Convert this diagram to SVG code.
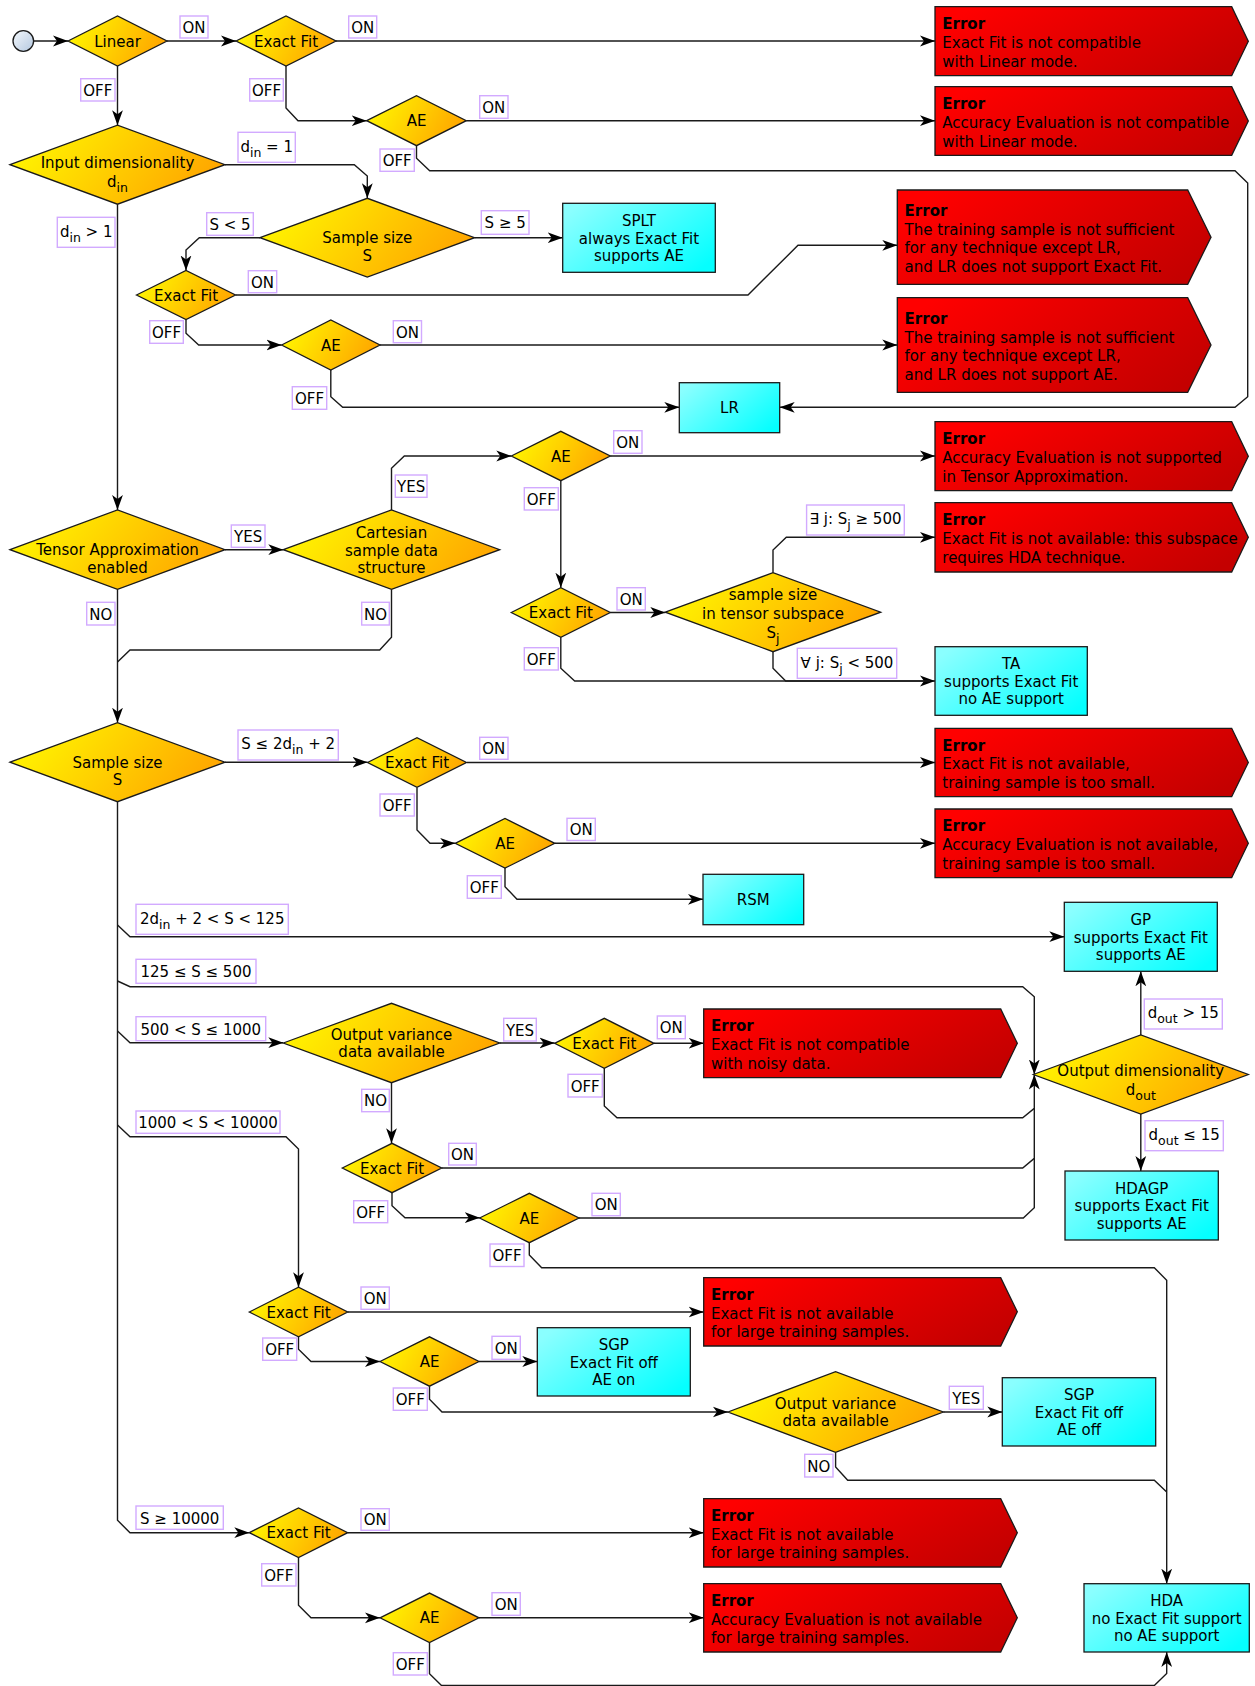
<svg xmlns="http://www.w3.org/2000/svg" width="1255" height="1686" viewBox="0 0 1255 1686">
<defs>
<linearGradient id="gy" x1="0" y1="0.35" x2="1" y2="0.65"><stop offset="0" stop-color="#fff600"/><stop offset="1" stop-color="#ffa200"/></linearGradient>
<linearGradient id="gc" x1="0" y1="0.2" x2="1" y2="0.8"><stop offset="0" stop-color="#8affff"/><stop offset="1" stop-color="#05ffff"/></linearGradient>
<linearGradient id="gr" x1="0" y1="0.3" x2="1" y2="0.7"><stop offset="0" stop-color="#ff0000"/><stop offset="1" stop-color="#c40000"/></linearGradient>
<linearGradient id="gs" x1="0" y1="0" x2="1" y2="1"><stop offset="0" stop-color="#f4f8fc"/><stop offset="1" stop-color="#b4c8e0"/></linearGradient>
<marker id="a" viewBox="0 0 16 12" refX="15" refY="6" markerWidth="16" markerHeight="12" markerUnits="userSpaceOnUse" orient="auto"><path d="M15,6 L0,0.6 L4,6 L0,11.4 Z" fill="#000"/></marker>
<style>
text{font-family:"DejaVu Sans","Liberation Sans",sans-serif;font-size:15px;fill:#000}
.t{text-anchor:middle}
.s{font-size:12.5px}
.eb{font-weight:bold}
.d{fill:url(#gy);stroke:#1a1a1a;stroke-width:1.3}
.b{fill:url(#gc);stroke:#1a1a1a;stroke-width:1.3}
.e{fill:url(#gr);stroke:#1a1a1a;stroke-width:1.3}
.l{fill:#fff;stroke:#d2aaff;stroke-width:1.4}
.c{fill:none;stroke:#1a1a1a;stroke-width:1.4}
.m{marker-end:url(#a)}
</style>
</defs>
<rect width="1255" height="1686" fill="#fff"/>

<g id="connectors">
<path class="c m" d="M33.6,41 H68"/>
<path class="c m" d="M167,41 H236"/>
<path class="c m" d="M336,41 H935"/>
<path class="c m" d="M117.5,66 V125.2"/>
<path class="c m" d="M286,66 V108 L298,120.7 H366.7"/>
<path class="c m" d="M466.3,120.7 H935"/>
<path class="c m" d="M416.5,145.7 V158.3 L429.7,170.7 H1235 L1247.7,183 V396.7 L1235,407.3 H779.7"/>
<path class="c m" d="M225,164.7 H354.3 L367.3,176 V198.3"/>
<path class="c m" d="M474.6,237.7 H562.7"/>
<path class="c m" d="M260,237.7 H199.3 L186,250 V270.5"/>
<path class="c m" d="M235.5,295 H748 L798,245.3 H897.3"/>
<path class="c m" d="M186,319.5 V333.3 L198.7,345 H281.6"/>
<path class="c m" d="M380,345 H897.3"/>
<path class="c m" d="M330.8,370 V396.7 L342.7,407.3 H679.3"/>
<path class="c m" d="M117.5,204.2 V510"/>
<path class="c m" d="M225,549.7 H283.3"/>
<path class="c m" d="M391.5,510 V468.3 L404.3,456 H511.3"/>
<path class="c m" d="M610.3,456 H935"/>
<path class="c m" d="M560.8,480.7 V587.7"/>
<path class="c m" d="M610.3,612.5 H665.3"/>
<path class="c m" d="M773,572.7 V550 L786.3,537.3 H935"/>
<path class="c m" d="M773,651.7 V668.3 L785.7,681 H935"/>
<path class="c" d="M560.8,637.3 V668.3 L574.7,681 H930"/>
<path class="c m" d="M117.5,589.4 V722.7"/>
<path class="c" d="M391.5,589.4 V637.3 L379.7,650 H130 L117.5,662"/>
<path class="c m" d="M225,762.2 H367.5"/>
<path class="c m" d="M467,762.5 H935"/>
<path class="c m" d="M417,787.5 V830 L430,843.3 H455.2"/>
<path class="c m" d="M554.8,843.3 H935"/>
<path class="c m" d="M505,868.1 V886.7 L517,899.3 H703"/>
<path class="c m" d="M117.5,801.7 V1520.3 L130,1532.7 H249.3"/>
<path class="c m" d="M117.5,925 L130,936.7 H1064.3"/>
<path class="c m" d="M117.5,981 L130,986.7 H1022.7 L1034.3,996.7 V1074.5"/>
<path class="c m" d="M117.5,1031 L130,1042.7 H283.3"/>
<path class="c m" d="M499.7,1043 H554.6"/>
<path class="c m" d="M654,1043.3 H703.7"/>
<path class="c m" d="M604.3,1068.1 V1106 L617,1117.7 H1022.7 L1034.3,1108.3 V1074.5"/>
<path class="c m" d="M391.5,1082.7 V1143.3"/>
<path class="c" d="M441.7,1168 H1022.7 L1034.3,1158.3 V1108"/>
<path class="c m" d="M392,1192.7 V1205.7 L405,1217.7 H479.8"/>
<path class="c" d="M579,1218 H1023.3 L1034.3,1207.7 V1158"/>
<path class="c m" d="M529.3,1242.7 V1255 L541.7,1267.7 H1154.3 L1166.7,1280.3 V1583.7"/>
<path class="c m" d="M117.5,1125 L130,1136.7 H286 L298.5,1149 V1287.2"/>
<path class="c m" d="M347.7,1312 H703.7"/>
<path class="c m" d="M298.5,1336.8 V1349.3 L311,1361.5 H380"/>
<path class="c m" d="M479,1361.5 H537.3"/>
<path class="c m" d="M429.5,1386.2 V1399.3 L442,1412 H727.9"/>
<path class="c m" d="M943.3,1412 H1002.3"/>
<path class="c" d="M835.6,1452.3 V1467 L847.7,1480.3 H1154.3 L1166.7,1492"/>
<path class="c m" d="M347.7,1532.7 H703.7"/>
<path class="c m" d="M298.5,1557.5 V1605.3 L311,1617.8 H380"/>
<path class="c m" d="M479,1617.8 H703.7"/>
<path class="c m" d="M429.5,1642.5 V1673.7 L441.5,1685.5 H1154.3 L1166.7,1673.5 V1652"/>
<path class="c m" d="M1140.8,1035 V971.3"/>
<path class="c m" d="M1140.8,1114 V1171"/>
</g>

<g id="edge-labels">
<rect class="l" x="180" y="16" width="28" height="22"/><text class="t" x="194" y="32.8">ON</text>
<rect class="l" x="348.7" y="16" width="28" height="22"/><text class="t" x="362.7" y="32.8">ON</text>
<rect class="l" x="80.7" y="78.7" width="34.3" height="22.3"/><text class="t" x="97.8" y="95.7">OFF</text>
<rect class="l" x="249.7" y="78.7" width="33.6" height="22.3"/><text class="t" x="266.5" y="95.7">OFF</text>
<rect class="l" x="479.7" y="95.7" width="28.3" height="22.6"/><text class="t" x="493.8" y="112.8">ON</text>
<rect class="l" x="380" y="149" width="34.3" height="22.3"/><text class="t" x="397.2" y="166">OFF</text>
<rect class="l" x="238" y="132.3" width="57.3" height="30"/><text class="t" x="266.7" y="151.7">d<tspan class="s" dy="5">in</tspan><tspan dy="-5"> = 1</tspan></text>
<rect class="l" x="57.3" y="217.3" width="57.7" height="30"/><text class="t" x="86.2" y="236.7">d<tspan class="s" dy="5">in</tspan><tspan dy="-5"> &gt; 1</tspan></text>
<rect class="l" x="206.7" y="212.7" width="46.6" height="22.6"/><text class="t" x="230" y="229.8">S &lt; 5</text>
<rect class="l" x="481.3" y="210.7" width="47.7" height="23.6"/><text class="t" x="505.2" y="228.3">S ≥ 5</text>
<rect class="l" x="248.3" y="270.7" width="28.4" height="22"/><text class="t" x="262.5" y="287.5">ON</text>
<rect class="l" x="149.7" y="320.7" width="33.6" height="22.6"/><text class="t" x="166.5" y="337.8">OFF</text>
<rect class="l" x="393.3" y="320.7" width="28.2" height="22"/><text class="t" x="407.4" y="337.5">ON</text>
<rect class="l" x="292.3" y="386.7" width="34.4" height="22.6"/><text class="t" x="309.5" y="403.8">OFF</text>
<rect class="l" x="395.3" y="475" width="31.7" height="22.3"/><text class="t" x="411.2" y="492">YES</text>
<rect class="l" x="613.7" y="430.7" width="28.3" height="22.6"/><text class="t" x="627.8" y="447.8">ON</text>
<rect class="l" x="524.3" y="487.7" width="34" height="22.3"/><text class="t" x="541.3" y="504.6">OFF</text>
<rect class="l" x="231.3" y="525" width="33.7" height="22.3"/><text class="t" x="248.2" y="542">YES</text>
<rect class="l" x="806.6" y="505" width="97.7" height="30"/><text class="t" x="855.5" y="524.4">∃ j: S<tspan class="s" dy="5">j</tspan><tspan dy="-5"> ≥ 500</tspan></text>
<rect class="l" x="617" y="587.7" width="28.3" height="22.3"/><text class="t" x="631.2" y="604.6">ON</text>
<rect class="l" x="86.7" y="602.3" width="28.3" height="22.7"/><text class="t" x="100.8" y="619.5">NO</text>
<rect class="l" x="361.7" y="602.3" width="27.6" height="22.7"/><text class="t" x="375.5" y="619.5">NO</text>
<rect class="l" x="797.3" y="648.3" width="99.4" height="30"/><text class="t" x="847" y="667.7">∀ j: S<tspan class="s" dy="5">j</tspan><tspan dy="-5"> &lt; 500</tspan></text>
<rect class="l" x="524.3" y="647.7" width="34" height="22.3"/><text class="t" x="541.3" y="664.7">OFF</text>
<rect class="l" x="238" y="730" width="100.3" height="30"/><text class="t" x="288.2" y="749.4">S ≤ 2d<tspan class="s" dy="5">in</tspan><tspan dy="-5"> + 2</tspan></text>
<rect class="l" x="479.7" y="737.3" width="28.3" height="22"/><text class="t" x="493.8" y="754.1">ON</text>
<rect class="l" x="380" y="794" width="34.3" height="22"/><text class="t" x="397.2" y="810.8">OFF</text>
<rect class="l" x="567" y="818.3" width="28.3" height="22.2"/><text class="t" x="581.2" y="835.2">ON</text>
<rect class="l" x="467.3" y="875.7" width="34" height="22.6"/><text class="t" x="484.3" y="892.8">OFF</text>
<rect class="l" x="136" y="904.3" width="152.3" height="30"/><text class="t" x="212.2" y="923.7">2d<tspan class="s" dy="5">in</tspan><tspan dy="-5"> + 2 &lt; S &lt; 125</tspan></text>
<rect class="l" x="136" y="959.3" width="120" height="24"/><text class="t" x="196" y="977.1">125 ≤ S ≤ 500</text>
<rect class="l" x="136" y="1016.7" width="129.7" height="24"/><text class="t" x="200.8" y="1034.5">500 &lt; S ≤ 1000</text>
<rect class="l" x="503.7" y="1018.3" width="32.6" height="22.7"/><text class="t" x="520" y="1035.5">YES</text>
<rect class="l" x="657.3" y="1016" width="28" height="22.7"/><text class="t" x="671.3" y="1033.2">ON</text>
<rect class="l" x="1144.3" y="999" width="78" height="30"/><text class="t" x="1183.3" y="1018.4">d<tspan class="s" dy="5">out</tspan><tspan dy="-5"> &gt; 15</tspan></text>
<rect class="l" x="361.7" y="1089.3" width="27.6" height="22.4"/><text class="t" x="375.5" y="1106.3">NO</text>
<rect class="l" x="568" y="1074.3" width="34.3" height="22.7"/><text class="t" x="585.2" y="1091.5">OFF</text>
<rect class="l" x="136" y="1111" width="144" height="22.3"/><text class="t" x="208" y="1128">1000 &lt; S &lt; 10000</text>
<rect class="l" x="448.7" y="1143.3" width="27.6" height="21.7"/><text class="t" x="462.5" y="1160">ON</text>
<rect class="l" x="1145" y="1120.7" width="78.3" height="30"/><text class="t" x="1184.2" y="1140.1">d<tspan class="s" dy="5">out</tspan><tspan dy="-5"> ≤ 15</tspan></text>
<rect class="l" x="353.7" y="1200.7" width="34" height="22"/><text class="t" x="370.7" y="1217.5">OFF</text>
<rect class="l" x="592" y="1193.3" width="28.3" height="22.4"/><text class="t" x="606.2" y="1210.3">ON</text>
<rect class="l" x="490" y="1244" width="34" height="22.5"/><text class="t" x="507" y="1261">OFF</text>
<rect class="l" x="361" y="1287" width="28.3" height="22.3"/><text class="t" x="375.2" y="1304">ON</text>
<rect class="l" x="262.7" y="1338" width="34" height="22.3"/><text class="t" x="279.7" y="1355">OFF</text>
<rect class="l" x="492" y="1336.3" width="28.3" height="23"/><text class="t" x="506.2" y="1353.6">ON</text>
<rect class="l" x="393.3" y="1388" width="34" height="22.3"/><text class="t" x="410.3" y="1405">OFF</text>
<rect class="l" x="949.3" y="1386.3" width="34" height="23"/><text class="t" x="966.3" y="1403.6">YES</text>
<rect class="l" x="804.7" y="1454.3" width="28.3" height="22.7"/><text class="t" x="818.8" y="1471.5">NO</text>
<rect class="l" x="136" y="1506" width="87.3" height="23.3"/><text class="t" x="179.7" y="1523.5">S ≥ 10000</text>
<rect class="l" x="361" y="1508.7" width="28.3" height="21.6"/><text class="t" x="375.2" y="1525.3">ON</text>
<rect class="l" x="261.7" y="1563.7" width="34.3" height="22.3"/><text class="t" x="278.8" y="1580.7">OFF</text>
<rect class="l" x="492" y="1592.7" width="28.3" height="22.6"/><text class="t" x="506.2" y="1609.8">ON</text>
<rect class="l" x="393.3" y="1652.7" width="34" height="22.3"/><text class="t" x="410.3" y="1669.7">OFF</text>
</g>

<g id="start"><circle cx="23.3" cy="41" r="10.3" fill="url(#gs)" stroke="#1a1a1a" stroke-width="1.3"/></g>

<g id="linear"><polygon class="d" points="68,41 117.5,16 167,41 117.5,66"/><text class="t" x="117.5" y="46.5">Linear</text></g>
<g id="exactfit-linear"><polygon class="d" points="236,41 286,16 336,41 286,66"/><text class="t" x="286" y="46.5">Exact Fit</text></g>
<g id="ae-linear"><polygon class="d" points="366.7,120.7 416.5,95.7 466.3,120.7 416.5,145.7"/><text class="t" x="416.5" y="126.2">AE</text></g>
<g id="input-dim"><polygon class="d" points="10,164.7 117.5,125.2 225,164.7 117.5,204.2"/><text class="t" x="117.5" y="168.3">Input dimensionality</text><text class="t" x="117.5" y="187.3">d<tspan class="s" dy="5">in</tspan></text></g>
<g id="sample-size-1d"><polygon class="d" points="260,237.7 367.3,198.3 474.6,237.7 367.3,277.1"/><text class="t" x="367.3" y="243.3">Sample size</text><text class="t" x="367.3" y="261">S</text></g>
<g id="exactfit-1d"><polygon class="d" points="136.5,295 186,270.5 235.5,295 186,319.5"/><text class="t" x="186" y="300.5">Exact Fit</text></g>
<g id="ae-1d"><polygon class="d" points="281.6,345 330.8,320 380,345 330.8,370"/><text class="t" x="330.8" y="350.5">AE</text></g>
<g id="ta-enabled"><polygon class="d" points="10,549.7 117.5,510 225,549.7 117.5,589.4"/><text class="t" x="117.5" y="555">Tensor Approximation</text><text class="t" x="117.5" y="572.5">enabled</text></g>
<g id="cartesian"><polygon class="d" points="283.3,549.7 391.5,510 499.7,549.7 391.5,589.4"/><text class="t" x="391.5" y="538.3">Cartesian</text><text class="t" x="391.5" y="555.6">sample data</text><text class="t" x="391.5" y="573">structure</text></g>
<g id="ae-ta"><polygon class="d" points="511.3,456 560.8,431.3 610.3,456 560.8,480.7"/><text class="t" x="560.8" y="461.5">AE</text></g>
<g id="exactfit-ta"><polygon class="d" points="511.3,612.5 560.8,587.7 610.3,612.5 560.8,637.3"/><text class="t" x="560.8" y="618">Exact Fit</text></g>
<g id="subspace-size"><polygon class="d" points="665.3,612.2 773,572.7 880.7,612.2 773,651.7"/><text class="t" x="773" y="600">sample size</text><text class="t" x="773" y="619">in tensor subspace</text><text class="t" x="773" y="637.7">S<tspan class="s" dy="5">j</tspan></text></g>
<g id="sample-size"><polygon class="d" points="10,762.2 117.5,722.7 225,762.2 117.5,801.7"/><text class="t" x="117.5" y="768.3">Sample size</text><text class="t" x="117.5" y="785">S</text></g>
<g id="exactfit-small"><polygon class="d" points="367.5,762.5 417,737.7 466.5,762.5 417,787.3"/><text class="t" x="417" y="768">Exact Fit</text></g>
<g id="ae-small"><polygon class="d" points="455.2,843.3 505,818.5 554.8,843.3 505,868.1"/><text class="t" x="505" y="849">AE</text></g>
<g id="outvar-1"><polygon class="d" points="283.3,1043 391.5,1003.3 499.7,1043 391.5,1082.7"/><text class="t" x="391.5" y="1040">Output variance</text><text class="t" x="391.5" y="1057.3">data available</text></g>
<g id="exactfit-noisy"><polygon class="d" points="554.6,1043.3 604.3,1018.3 654,1043.3 604.3,1068.3"/><text class="t" x="604.3" y="1049">Exact Fit</text></g>
<g id="exactfit-mid"><polygon class="d" points="342.3,1168 392,1143.3 441.7,1168 392,1192.7"/><text class="t" x="392" y="1173.5">Exact Fit</text></g>
<g id="ae-mid"><polygon class="d" points="479.6,1218 529.3,1193.3 579,1218 529.3,1242.7"/><text class="t" x="529.3" y="1223.5">AE</text></g>
<g id="output-dim"><polygon class="d" points="1033.3,1074.5 1140.8,1035 1248.3,1074.5 1140.8,1114"/><text class="t" x="1140.8" y="1075.7">Output dimensionality</text><text class="t" x="1140.8" y="1095">d<tspan class="s" dy="5">out</tspan></text></g>
<g id="exactfit-large"><polygon class="d" points="249.3,1312 298.5,1287.2 347.7,1312 298.5,1336.8"/><text class="t" x="298.5" y="1317.5">Exact Fit</text></g>
<g id="ae-large"><polygon class="d" points="380,1361.5 429.5,1336.8 479,1361.5 429.5,1386.2"/><text class="t" x="429.5" y="1367">AE</text></g>
<g id="outvar-2"><polygon class="d" points="727.9,1412 835.6,1371.7 943.3,1412 835.6,1452.3"/><text class="t" x="835.6" y="1408.7">Output variance</text><text class="t" x="835.6" y="1426">data available</text></g>
<g id="exactfit-huge"><polygon class="d" points="249.3,1532.7 298.5,1507.9 347.7,1532.7 298.5,1557.5"/><text class="t" x="298.5" y="1538.2">Exact Fit</text></g>
<g id="ae-huge"><polygon class="d" points="380,1617.8 429.5,1593.1 479,1617.8 429.5,1642.5"/><text class="t" x="429.5" y="1623.3">AE</text></g>

<g id="splt"><rect class="b" x="562.7" y="203.3" width="152.6" height="69"/><text class="t" x="639" y="226.2">SPLT</text><text class="t" x="639" y="243.6">always Exact Fit</text><text class="t" x="639" y="261">supports AE</text></g>
<g id="lr"><rect class="b" x="679.3" y="382.7" width="100.4" height="50"/><text class="t" x="729.5" y="413.2">LR</text></g>
<g id="ta"><rect class="b" x="935" y="646.7" width="152.3" height="68.6"/><text class="t" x="1011.2" y="669.4">TA</text><text class="t" x="1011.2" y="686.8">supports Exact Fit</text><text class="t" x="1011.2" y="704.2">no AE support</text></g>
<g id="rsm"><rect class="b" x="703" y="874.3" width="100.7" height="50.4"/><text class="t" x="753.3" y="905">RSM</text></g>
<g id="gp"><rect class="b" x="1064.3" y="902.3" width="153" height="69"/><text class="t" x="1140.8" y="925.2">GP</text><text class="t" x="1140.8" y="942.6">supports Exact Fit</text><text class="t" x="1140.8" y="960">supports AE</text></g>
<g id="hdagp"><rect class="b" x="1065" y="1171" width="153.3" height="69"/><text class="t" x="1141.7" y="1193.9">HDAGP</text><text class="t" x="1141.7" y="1211.3">supports Exact Fit</text><text class="t" x="1141.7" y="1228.7">supports AE</text></g>
<g id="sgp-ae-on"><rect class="b" x="537.3" y="1327.7" width="153" height="68.3"/><text class="t" x="613.8" y="1350.2">SGP</text><text class="t" x="613.8" y="1367.6">Exact Fit off</text><text class="t" x="613.8" y="1385">AE on</text></g>
<g id="sgp-ae-off"><rect class="b" x="1002.3" y="1377.7" width="153.4" height="68.3"/><text class="t" x="1079" y="1400.2">SGP</text><text class="t" x="1079" y="1417.6">Exact Fit off</text><text class="t" x="1079" y="1435">AE off</text></g>
<g id="hda"><rect class="b" x="1084" y="1583.7" width="165.3" height="68.3"/><text class="t" x="1166.7" y="1606.2">HDA</text><text class="t" x="1166.7" y="1623.6">no Exact Fit support</text><text class="t" x="1166.7" y="1641">no AE support</text></g>

<g id="error-1"><polygon class="e" points="935,6.7 1231.7,6.7 1248.3,41.2 1231.7,75.7 935,75.7"/><text x="942.3" y="29.3" class="eb">Error</text><text x="942.3" y="48">Exact Fit is not compatible</text><text x="942.3" y="66.7">with Linear mode.</text></g>
<g id="error-2"><polygon class="e" points="935,86.7 1231.7,86.7 1248.3,121 1231.7,155.3 935,155.3"/><text x="942.3" y="109.1" class="eb">Error</text><text x="942.3" y="127.8">Accuracy Evaluation is not compatible</text><text x="942.3" y="146.5">with Linear mode.</text></g>
<g id="error-3"><polygon class="e" points="897.3,190 1187.7,190 1211,237.2 1187.7,284.3 897.3,284.3"/><text x="904.6" y="216" class="eb">Error</text><text x="904.6" y="234.7">The training sample is not sufficient</text><text x="904.6" y="253.4">for any technique except LR,</text><text x="904.6" y="272.1">and LR does not support Exact Fit.</text></g>
<g id="error-4"><polygon class="e" points="897.3,297.7 1187.7,297.7 1211,345 1187.7,392.3 897.3,392.3"/><text x="904.6" y="323.8" class="eb">Error</text><text x="904.6" y="342.5">The training sample is not sufficient</text><text x="904.6" y="361.2">for any technique except LR,</text><text x="904.6" y="379.9">and LR does not support AE.</text></g>
<g id="error-5"><polygon class="e" points="935,421.7 1231.7,421.7 1248.3,456.2 1231.7,490.7 935,490.7"/><text x="942.3" y="444.3" class="eb">Error</text><text x="942.3" y="463">Accuracy Evaluation is not supported</text><text x="942.3" y="481.7">in Tensor Approximation.</text></g>
<g id="error-6"><polygon class="e" points="935,502.7 1231.7,502.7 1248.3,537.3 1231.7,572 935,572"/><text x="942.3" y="525.4" class="eb">Error</text><text x="942.3" y="544.1">Exact Fit is not available: this subspace</text><text x="942.3" y="562.8">requires HDA technique.</text></g>
<g id="error-7"><polygon class="e" points="935,728.3 1231.7,728.3 1248.3,762.5 1231.7,796.7 935,796.7"/><text x="942.3" y="750.6" class="eb">Error</text><text x="942.3" y="769.3">Exact Fit is not available,</text><text x="942.3" y="788">training sample is too small.</text></g>
<g id="error-8"><polygon class="e" points="935,809 1231.7,809 1248.3,843.3 1231.7,877.7 935,877.7"/><text x="942.3" y="831.4" class="eb">Error</text><text x="942.3" y="850.1">Accuracy Evaluation is not available,</text><text x="942.3" y="868.8">training sample is too small.</text></g>
<g id="error-9"><polygon class="e" points="703.7,1009 1000.7,1009 1017.3,1043.3 1000.7,1077.7 703.7,1077.7"/><text x="711" y="1031.4" class="eb">Error</text><text x="711" y="1050.1">Exact Fit is not compatible</text><text x="711" y="1068.8">with noisy data.</text></g>
<g id="error-10"><polygon class="e" points="703.7,1277.7 1000.7,1277.7 1017.3,1311.8 1000.7,1346 703.7,1346"/><text x="711" y="1299.9" class="eb">Error</text><text x="711" y="1318.6">Exact Fit is not available</text><text x="711" y="1337.3">for large training samples.</text></g>
<g id="error-11"><polygon class="e" points="703.7,1498.7 1000.7,1498.7 1017.3,1532.8 1000.7,1567 703.7,1567"/><text x="711" y="1520.9" class="eb">Error</text><text x="711" y="1539.6">Exact Fit is not available</text><text x="711" y="1558.3">for large training samples.</text></g>
<g id="error-12"><polygon class="e" points="703.7,1583.7 1000.7,1583.7 1017.3,1617.8 1000.7,1652 703.7,1652"/><text x="711" y="1605.9" class="eb">Error</text><text x="711" y="1624.6">Accuracy Evaluation is not available</text><text x="711" y="1643.3">for large training samples.</text></g>
</svg>
